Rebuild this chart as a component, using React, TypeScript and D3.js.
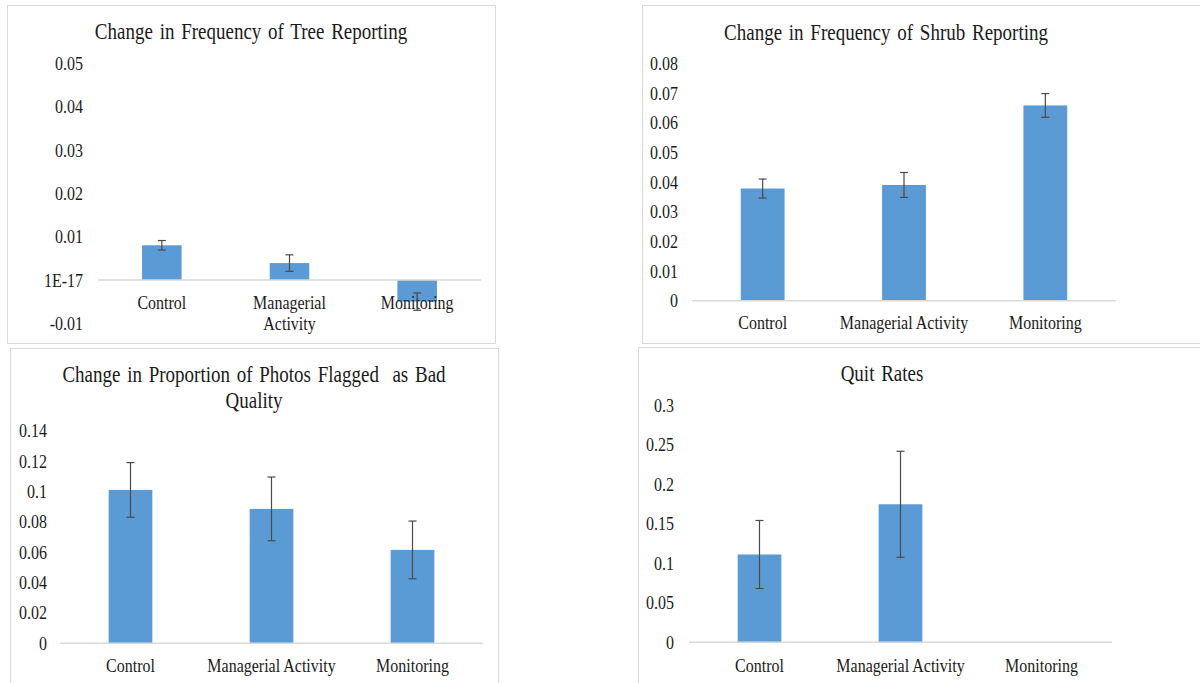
import React from "react";
import * as d3 from "d3";

// ---------- data ----------
const categories = ["Control", "Managerial Activity", "Monitoring"];

const treeTitle = ["Change in Frequency of Tree Reporting"];
const treeValues = [0.008, 0.0039, -0.005];
const treeErrors = [0.0011, 0.0019, 0.002];
const treeTicks = [-0.01, 0, 0.01, 0.02, 0.03, 0.04, 0.05];
const treeTickLabels = ["-0.01", "1E-17", "0.01", "0.02", "0.03", "0.04", "0.05"];
const treeCatLabels = [["Control"], ["Managerial", "Activity"], ["Monitoring"]];

const shrubTitle = ["Change in Frequency of Shrub Reporting"];
const shrubValues = [0.0378, 0.039, 0.0658];
const shrubErrors = [0.0032, 0.0042, 0.004];
const shrubTicks = [0, 0.01, 0.02, 0.03, 0.04, 0.05, 0.06, 0.07, 0.08];
const shrubTickLabels = ["0", "0.01", "0.02", "0.03", "0.04", "0.05", "0.06", "0.07", "0.08"];

const photoTitle = ["Change in Proportion of Photos Flagged  as Bad", "Quality"];
const photoValues = [0.101, 0.0885, 0.0615];
const photoErrors = [0.018, 0.021, 0.019];
const photoTicks = [0, 0.02, 0.04, 0.06, 0.08, 0.1, 0.12, 0.14];
const photoTickLabels = ["0", "0.02", "0.04", "0.06", "0.08", "0.1", "0.12", "0.14"];

const quitTitle = ["Quit Rates"];
const quitValues = [0.111, 0.1745, 0];
const quitErrors = [0.043, 0.067, 0];
const quitTicks = [0, 0.05, 0.1, 0.15, 0.2, 0.25, 0.3];
const quitTickLabels = ["0", "0.05", "0.1", "0.15", "0.2", "0.25", "0.3"];

const singleLineCats = categories.map((c) => [c]);

// ---------- styles ----------
const FONT = "'Liberation Serif', 'Times New Roman', serif";
const BAR = "#5B9BD5";
const GRID = "#D9D9D9";
const TEXT = "#1a1a1a";
const ERR = "#4a4a4a";
const VSTRETCH = 1.22;

function Txt(props: {
  x: number;
  y: number;
  size: number;
  anchor: "start" | "middle" | "end";
  children: React.ReactNode;
  spacing?: string;
}) {
  return (
    <text
      transform={`translate(${props.x},${props.y}) scale(1,${VSTRETCH})`}
      textAnchor={props.anchor}
      dominantBaseline="central"
      fontSize={props.size}
      fill={TEXT}
      style={{ whiteSpace: "pre", wordSpacing: props.spacing || "0px" }}
    >
      {props.children}
    </text>
  );
}

type PanelProps = {
  box: [number, number, number, number];
  title: string[];
  titleX: number;
  titleY: number;
  values: number[];
  errors: number[];
  ticks: number[];
  tickLabels: string[];
  catLabels: string[][];
  xRange: [number, number];
  yRange: [number, number];
  tickX: number;
  catY: number;
};

function Panel(p: PanelProps) {
  const dom: [number, number] = [p.ticks[0], p.ticks[p.ticks.length - 1]];
  const y = d3.scaleLinear().domain(dom).range(p.yRange);
  const x = d3
    .scaleBand<string>()
    .domain(categories)
    .range(p.xRange)
    .paddingInner(0.69)
    .paddingOuter(0.345);
  const bw = x.bandwidth();
  const capW = 8;
  const [bx, by, bwid, bh] = p.box;
  return (
    <g>
      <rect x={bx + 0.5} y={by + 0.5} width={bwid} height={bh} fill="#fff" stroke={GRID} strokeWidth={1} />
      {p.title.map((t, i) => (
        <Txt key={i} x={p.titleX} y={p.titleY + i * 26} size={19} anchor="middle" spacing="2px">
          {t}
        </Txt>
      ))}
      {p.ticks.map((t, i) => (
        <Txt key={i} x={p.tickX} y={y(t)} size={16} anchor="end">
          {p.tickLabels[i]}
        </Txt>
      ))}
      {categories.map((c, i) => {
        const v = p.values[i];
        if (v === 0) return null;
        const y0 = y(0);
        const yv = y(v);
        return (
          <rect
            key={c}
            x={x(c)!}
            y={Math.min(y0, yv)}
            width={bw}
            height={Math.abs(yv - y0)}
            fill={BAR}
          />
        );
      })}
      <line x1={p.xRange[0]} x2={p.xRange[1]} y1={y(0)} y2={y(0)} stroke={GRID} strokeWidth={1.5} />
      {categories.map((c, i) =>
        p.catLabels[i].map((l, j) => (
          <Txt key={c + j} x={x(c)! + bw / 2} y={p.catY + j * 20.6} size={16} anchor="middle">
            {l}
          </Txt>
        ))
      )}
      {categories.map((c, i) => {
        const v = p.values[i];
        const e = p.errors[i];
        if (e === 0) return null;
        const cx = x(c)! + bw / 2;
        const yt = y(v + e);
        const yb = y(v - e);
        return (
          <g key={c} stroke={ERR} strokeWidth={1.2}>
            <line x1={cx} x2={cx} y1={yt} y2={yb} />
            <line x1={cx - capW / 2} x2={cx + capW / 2} y1={yt} y2={yt} />
            <line x1={cx - capW / 2} x2={cx + capW / 2} y1={yb} y2={yb} />
          </g>
        );
      })}
    </g>
  );
}

export default function App() {
  return (
    <svg
      width={1200}
      height={683}
      style={{ position: "absolute", left: 0, top: 0, background: "#fff" }}
      fontFamily={FONT}
    >
      <rect x={0} y={0} width={1200} height={683} fill="#fff" />
      <Panel
        box={[7, 5, 488, 338]}
        title={treeTitle}
        titleX={251}
        titleY={31}
        values={treeValues}
        errors={treeErrors}
        ticks={treeTicks}
        tickLabels={treeTickLabels}
        catLabels={treeCatLabels}
        xRange={[98, 481]}
        yRange={[323.3, 63.3]}
        tickX={83}
        catY={302.7}
      />
      <Panel
        box={[642, 5, 600, 338]}
        title={shrubTitle}
        titleX={886}
        titleY={32}
        values={shrubValues}
        errors={shrubErrors}
        ticks={shrubTicks}
        tickLabels={shrubTickLabels}
        catLabels={singleLineCats}
        xRange={[692, 1116]}
        yRange={[300.7, 63.3]}
        tickX={678}
        catY={322.7}
      />
      <Panel
        box={[10, 348, 488, 400]}
        title={photoTitle}
        titleX={254}
        titleY={374}
        values={photoValues}
        errors={photoErrors}
        ticks={photoTicks}
        tickLabels={photoTickLabels}
        catLabels={singleLineCats}
        xRange={[60, 483]}
        yRange={[643.3, 430.7]}
        tickX={47}
        catY={665.7}
      />
      <Panel
        box={[638, 347, 600, 400]}
        title={quitTitle}
        titleX={882}
        titleY={373}
        values={quitValues}
        errors={quitErrors}
        ticks={quitTicks}
        tickLabels={quitTickLabels}
        catLabels={singleLineCats}
        xRange={[689, 1112]}
        yRange={[642.3, 405]}
        tickX={674}
        catY={665}
      />
    </svg>
  );
}
